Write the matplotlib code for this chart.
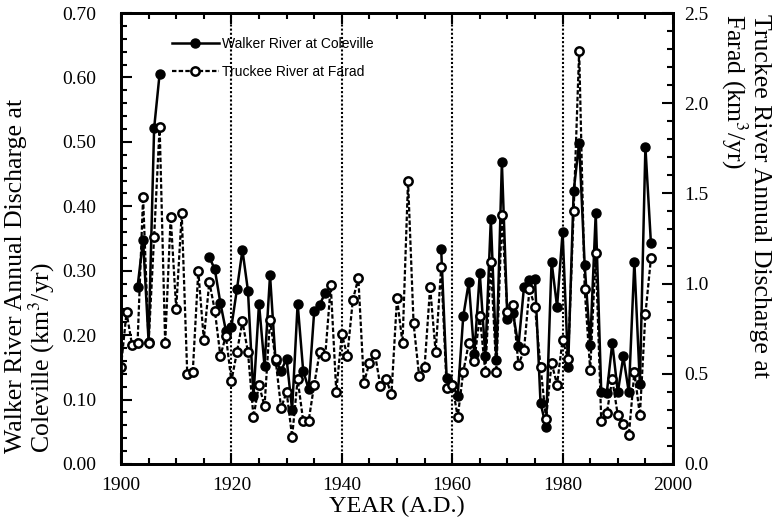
import numpy as np
import matplotlib
matplotlib.use('Agg')
import matplotlib.pyplot as plt
from matplotlib.ticker import MultipleLocator, FormatStrFormatter

# Truckee River at Farad, annual discharge (km^3/yr), right axis
truckee_years = list(range(1900, 1997))
truckee_q = [0.54, 0.84, 0.66, 0.67, 1.48, 0.67, 1.26, 1.87, 0.67, 1.37,
             0.86, 1.39, 0.50, 0.51, 1.07, 0.69, 1.01, 0.85, 0.60, 0.71,
             0.46, 0.62, 0.79, 0.62, 0.26, 0.44, 0.32, 0.80, 0.58, 0.31,
             0.40, 0.15, 0.47, 0.24, 0.24, 0.44, 0.62, 0.60, 0.99, 0.40,
             0.72, 0.60, 0.91, 1.03, 0.45, 0.56, 0.61, 0.43, 0.47, 0.39,
             0.92, 0.67, 1.57, 0.78, 0.49, 0.54, 0.98, 0.62, 1.09, 0.42,
             0.44, 0.26, 0.51, 0.67, 0.57, 0.82, 0.51, 1.12, 0.51, 1.38,
             0.84, 0.88, 0.55, 0.63, 0.97, 0.87, 0.54, 0.25, 0.56, 0.44,
             0.69, 0.58, 1.40, 2.29, 0.97, 0.52, 1.17, 0.24, 0.28, 0.47,
             0.27, 0.22, 0.16, 0.51, 0.27, 0.83, 1.14]

# Walker River at Coleville, annual discharge (km^3/yr), left axis (with gaps)
walker_years = ([1903, 1904, 1905, 1906, 1907]
                + list(range(1916, 1938))
                + list(range(1958, 1997)))
walker_q = [0.275, 0.348, 0.190, 0.521, 0.606,
            0.321, 0.302, 0.250, 0.207, 0.213, 0.271, 0.332, 0.269, 0.105, 0.249,
            0.152, 0.293, 0.160, 0.145, 0.163, 0.084, 0.249, 0.145, 0.116, 0.237,
            0.247, 0.266,
            0.334, 0.133, 0.123, 0.106, 0.229, 0.282, 0.170, 0.296, 0.168, 0.380,
            0.162, 0.468, 0.225, 0.235, 0.183, 0.274, 0.286, 0.287, 0.095, 0.058,
            0.314, 0.244, 0.360, 0.151, 0.423, 0.499, 0.309, 0.185, 0.389, 0.112,
            0.110, 0.188, 0.111, 0.167, 0.111, 0.314, 0.124, 0.492, 0.343]

dotted_years = [1920, 1940, 1960, 1980]

plt.rcParams['font.family'] = ['Liberation Serif', 'DejaVu Serif']
plt.rcParams['mathtext.fontset'] = 'stix'

# break the Walker line where years are missing
wy, wq = [], []
for i, (yr, q) in enumerate(zip(walker_years, walker_q)):
    if i > 0 and yr - walker_years[i - 1] > 1:
        wy.append(np.nan)
        wq.append(np.nan)
    wy.append(yr)
    wq.append(q)

fig = plt.figure(figsize=(7.76, 5.29), dpi=100)
ax = fig.add_axes([121 / 776, 1 - 464 / 529, 552 / 776, 451 / 529])
ax2 = ax.twinx()

for yr in dotted_years:
    ax.axvline(yr, color='black', lw=1.5, ls=(0, (1, 1)), zorder=1)

w_line, = ax.plot(wy, wq, color='black', lw=1.8, marker='o', ms=6.5,
                  mfc='black', mec='black', zorder=3,
                  label='Walker River at Coleville')
t_line, = ax2.plot(truckee_years, truckee_q, color='black', lw=1.6,
                   ls=(0, (2, 1)), marker='o', ms=6, mfc='white',
                   mec='black', mew=1.8, label='Truckee River at Farad')

ax.set_xlim(1900, 2000)
ax.set_ylim(0, 0.70)
ax2.set_ylim(0, 2.5)

ax.xaxis.set_major_locator(MultipleLocator(20))
ax.xaxis.set_minor_locator(MultipleLocator(5))
ax.yaxis.set_major_locator(MultipleLocator(0.1))
ax.yaxis.set_minor_locator(MultipleLocator(0.02))
ax.yaxis.set_major_formatter(FormatStrFormatter('%.2f'))
ax2.yaxis.set_major_locator(MultipleLocator(0.5))
ax2.yaxis.set_minor_locator(MultipleLocator(0.1))
ax2.yaxis.set_major_formatter(FormatStrFormatter('%.1f'))

ax.tick_params(which='both', direction='in', top=True, right=False,
               labelsize=14, width=1.5)
ax.tick_params(which='major', length=8)
ax.tick_params(which='minor', length=4)
ax.tick_params(axis='y', pad=18)
ax.tick_params(axis='x', pad=9)
ax2.tick_params(which='both', direction='in', labelsize=14, width=1.5, pad=8)
ax2.tick_params(which='major', length=8)
ax2.tick_params(which='minor', length=4)

for a in (ax, ax2):
    for sp in a.spines.values():
        sp.set_linewidth(2)

ax.set_xlabel('YEAR (A.D.)', fontsize=17.5, labelpad=2)

fig.text(31 / 776, 1 - 453 / 529,
         'Walker River Annual Discharge at\nColeville (km$^3$/yr)',
         rotation=90, ha='center', va='bottom', multialignment='left',
         fontsize=18.5, linespacing=1.0)
fig.text(745 / 776, 1 - 14 / 529,
         'Truckee River Annual Discharge at\nFarad (km$^3$/yr)',
         rotation=270, ha='center', va='top', multialignment='left',
         fontsize=18.5, linespacing=1.0)

ax2.legend([w_line, t_line],
           ['Walker River at Coleville', 'Truckee River at Farad'],
           loc='upper left', bbox_to_anchor=(0.092, 0.947), frameon=False,
           prop={'family': 'Liberation Sans', 'size': 10},
           handlelength=3.4, handletextpad=0.2, labelspacing=1.0,
           borderpad=0, borderaxespad=0, numpoints=1)

fig.savefig('out.png', dpi=100)
